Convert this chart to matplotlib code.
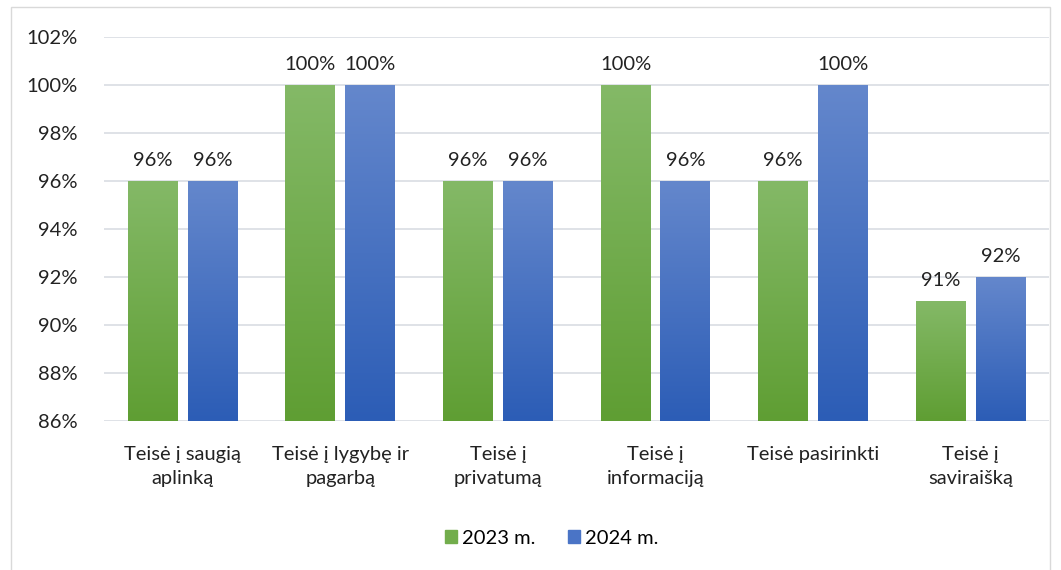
import matplotlib.pyplot as plt
from matplotlib.patches import Rectangle
from matplotlib.colors import LinearSegmentedColormap
import numpy as np

categories = ['Teisė į saugią\naplinką', 'Teisė į lygybę ir\npagarbą', 'Teisė į\nprivatumą',
              'Teisė į\ninformaciją', 'Teisė pasirinkti', 'Teisė į\nsaviraišką']
values_2023 = [96, 100, 96, 100, 96, 91]
values_2024 = [96, 100, 96, 96, 100, 92]
series_names = ['2023 m.', '2024 m.']

plt.rcParams['font.family'] = ['Lato', 'DejaVu Sans']

green_top, green_bot = '#84b967', '#5f9e33'
blue_top, blue_bot = '#6487cc', '#2c5db6'
FS = 14.5


def grad_cmap(top, bot):
  return LinearSegmentedColormap.from_list('g', [bot, top])


fig = plt.figure(figsize=(10.61, 5.70), dpi=100)
ax = fig.add_axes([0.098, 0.262, 0.891, 0.673])

ymin, ymax = 86, 102
x = np.arange(len(categories))
bw = 0.317
off = 0.19

grad = np.linspace(0, 1, 256).reshape(-1, 1)
for vals, sgn, (top, bot) in [(values_2023, -1, (green_top, green_bot)),
                               (values_2024, 1, (blue_top, blue_bot))]:
  cmap = grad_cmap(top, bot)
  for xi, v in zip(x, vals):
    cx = xi + sgn * off
    ax.imshow(grad, cmap=cmap, origin='lower', aspect='auto',
              extent=[cx - bw / 2, cx + bw / 2, ymin, v], zorder=2,
              vmin=0, vmax=1)
    ax.text(cx, v + 0.5, f'{v}%', ha='center', va='bottom', fontsize=FS, color='#222222')

ax.set_xlim(-0.5, len(categories) - 0.5)
ax.set_ylim(ymin, ymax)
ax.set_yticks(range(86, 103, 2))
ax.set_yticklabels([f'{t}%' for t in range(86, 103, 2)], fontsize=FS, color='#222222')
ax.set_xticks(x)
ax.set_xticklabels(categories, fontsize=FS, color='#222222', linespacing=1.5)
ax.tick_params(axis='y', length=0, pad=19)
ax.tick_params(axis='x', length=0, pad=18)
ax.grid(axis='y', color='#d9dde3', linewidth=1.2, zorder=0)
ax.set_axisbelow(True)
for s in ax.spines.values():
  s.set_visible(False)

handles = [Rectangle((0, 0), 1, 1, color='#72ad4c'), Rectangle((0, 1), 1, 1, color='#4a74c6')]
fig.legend(handles, series_names, loc='center', bbox_to_anchor=(0.52, 0.056), ncol=2,
           frameon=False, fontsize=FS, handlelength=0.6, handleheight=0.6,
           handletextpad=0.25, columnspacing=1.6)

fig.patches.append(Rectangle((0.0105, -0.01), 0.979, 0.998, transform=fig.transFigure,
                             fill=False, edgecolor='#d9d9d9', linewidth=1))

fig.savefig('out.png', dpi=100)
